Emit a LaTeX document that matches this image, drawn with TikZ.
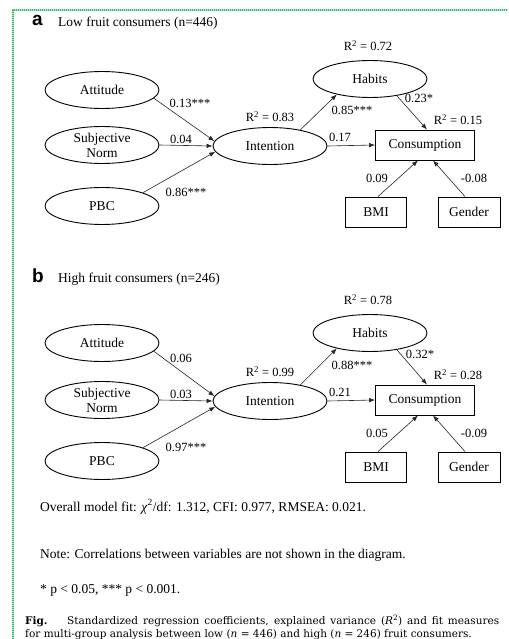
\documentclass[tikz,border=0pt]{standalone}
\usepackage{fontspec}
\setmainfont{Liberation Serif}
\newfontfamily\capfont{DejaVu Serif}
\newfontfamily\panelfont{Liberation Sans}
\usetikzlibrary{arrows.meta,shapes.geometric}

\tikzset{
  latent/.style={draw, ellipse, line width=0.9pt, minimum width=114pt, minimum height=37pt,
    inner sep=0pt, align=center, font=\fontsize{13.5}{15}\selectfont},
  observed/.style={draw, rectangle, line width=0.9pt, minimum height=30pt, inner sep=0pt,
    font=\fontsize{13.5}{15}\selectfont},
  arr/.style={-{Latex[length=6pt,width=4.5pt]}, line width=0.6pt, draw=black!85},
  coef/.style={inner sep=0pt, font=\fontsize{12.5}{14}\selectfont},
  title/.style={anchor=base west, inner sep=0pt, font=\fontsize{13.5}{15}\selectfont},
  letter/.style={anchor=base west, inner sep=0pt, font=\panelfont\bfseries\fontsize{19}{20}\selectfont},
  note/.style={anchor=base west, inner sep=0pt, font=\fontsize{13.5}{15}\selectfont},
  caption/.style={anchor=base west, inner sep=0pt, font=\capfont\fontsize{10.5}{12}\selectfont},
}

\begin{document}
\begin{tikzpicture}[x=1pt,y=-1pt]
\useasboundingbox (0,0) rectangle (508,639);
\fill[white] (0,0) rectangle (508,639);

% selection frame along the top and left edges
\draw[line width=2.5pt, draw={rgb,255:red,175;green,232;blue,195}] (13,639) -- (13,10) -- (508,10);
\draw[line width=2.5pt, draw={rgb,255:red,60;green,185;blue,110}, dash pattern=on 1pt off 1pt] (13,639) -- (13,10) -- (508,10);

% ---------------- panel a ----------------
\node[letter] (aLetter) at (32,25.5) {a};
\node[title] (aTitle) at (58,26.5) {Low fruit consumers (n=446)};

\node[latent] (aAtt) at (102,90) {Attitude};
\node[latent] (aSN) at (102,145) {Subjective\\Norm};
\node[latent] (aPBC) at (102,206) {PBC};
\node[latent] (aInt) at (270,146) {Intention};
\node[latent] (aHab) at (370,79) {Habits};
\node[observed, minimum width=99pt] (aCon) at (425,145) {Consumption};
\node[observed, minimum width=61pt] (aBMI) at (376,212) {BMI};
\node[observed, minimum width=62pt] (aGen) at (469,212) {Gender};

\draw[arr] (aAtt.-9) -- (aInt.175);
\draw[arr] (aSN.east) -- (aInt.west);
\draw[arr] (aPBC.18) -- (aInt.186);
\draw[arr] (aInt.28) -- (aHab.205);
\draw[arr] (aHab.-32) -- ([xshift=2pt]aCon.north);
\draw[arr] (aInt.east) -- (aCon.west);
\draw[arr] ([xshift=2pt]aBMI.north) -- ([xshift=-7pt]aCon.south);
\draw[arr] ([xshift=-4pt]aGen.north) -- ([xshift=8pt]aCon.south);

\node[coef] (aR2hab) at (368,46) {R\textsuperscript{2} = 0.72};
\node[coef] (aR2int) at (270,117) {R\textsuperscript{2} = 0.83};
\node[coef] (aR2con) at (458,120) {R\textsuperscript{2} = 0.15};
\node[coef] (aCatt) at (190,103) {0.13***};
\node[coef] (aCsn) at (181,139.5) {0.04};
\node[coef] (aCpbc) at (186,192) {0.86***};
\node[coef] (aChab) at (352,110) {0.85***};
\node[coef] (aChc) at (419,98) {0.23*};
\node[coef] (aCic) at (340,137) {0.17};
\node[coef] (aCbmi) at (377,178) {0.09};
\node[coef] (aCgen) at (474,178) {-0.08};

% ---------------- panel b ----------------
\node[letter] (bLetter) at (32,282) {b};
\node[title] (bTitle) at (58,282.5) {High fruit consumers (n=246)};

\node[latent] (bAtt) at (102,343) {Attitude};
\node[latent] (bSN) at (102,400) {Subjective\\Norm};
\node[latent] (bPBC) at (102,461) {PBC};
\node[latent] (bInt) at (270,401) {Intention};
\node[latent] (bHab) at (370,333) {Habits};
\node[observed, minimum width=99pt] (bCon) at (425,400) {Consumption};
\node[observed, minimum width=61pt] (bBMI) at (376,467) {BMI};
\node[observed, minimum width=62pt] (bGen) at (469,467) {Gender};

\draw[arr] (bAtt.-9) -- (bInt.175);
\draw[arr] (bSN.east) -- (bInt.west);
\draw[arr] (bPBC.18) -- (bInt.186);
\draw[arr] (bInt.28) -- (bHab.205);
\draw[arr] (bHab.-32) -- ([xshift=2pt]bCon.north);
\draw[arr] (bInt.east) -- (bCon.west);
\draw[arr] ([xshift=2pt]bBMI.north) -- ([xshift=-7pt]bCon.south);
\draw[arr] ([xshift=-4pt]bGen.north) -- ([xshift=8pt]bCon.south);

\node[coef] (bR2hab) at (368,300) {R\textsuperscript{2} = 0.78};
\node[coef] (bR2int) at (270,372) {R\textsuperscript{2} = 0.99};
\node[coef] (bR2con) at (458,375) {R\textsuperscript{2} = 0.28};
\node[coef] (bCatt) at (181,358) {0.06};
\node[coef] (bCsn) at (181,394.5) {0.03};
\node[coef] (bCpbc) at (186,447) {0.97***};
\node[coef] (bChab) at (352,365) {0.88***};
\node[coef] (bChc) at (420,354) {0.32*};
\node[coef] (bCic) at (340,392) {0.21};
\node[coef] (bCbmi) at (377,433) {0.05};
\node[coef] (bCgen) at (474,433) {-0.09};

% ---------------- notes and caption ----------------
\node[note] (fit) at (40,511) {Overall model fit: \textit{χ}\textsuperscript{2}/df: 1.312, CFI: 0.977, RMSEA: 0.021.};
\node[note] (corr) at (40,558) {Note: Correlations between variables are not shown in the diagram.};
\node[note] (sig) at (40,593.5) {* p {\textless} 0.05, *** p {\textless} 0.001.};
\node[caption] (figlab) at (25,624) {\bfseries Fig.};
\node[caption] (cap1) at (67,624) {\makebox[432pt][s]{Standardized regression coefficients, explained variance (\textit{R}\textsuperscript{2}) and fit measures}};
\node[caption] (cap2) at (25,637.5) {for multi-group analysis between low (\textit{n} = 446) and high (\textit{n} = 246) fruit consumers.};
\end{tikzpicture}
\end{document}
